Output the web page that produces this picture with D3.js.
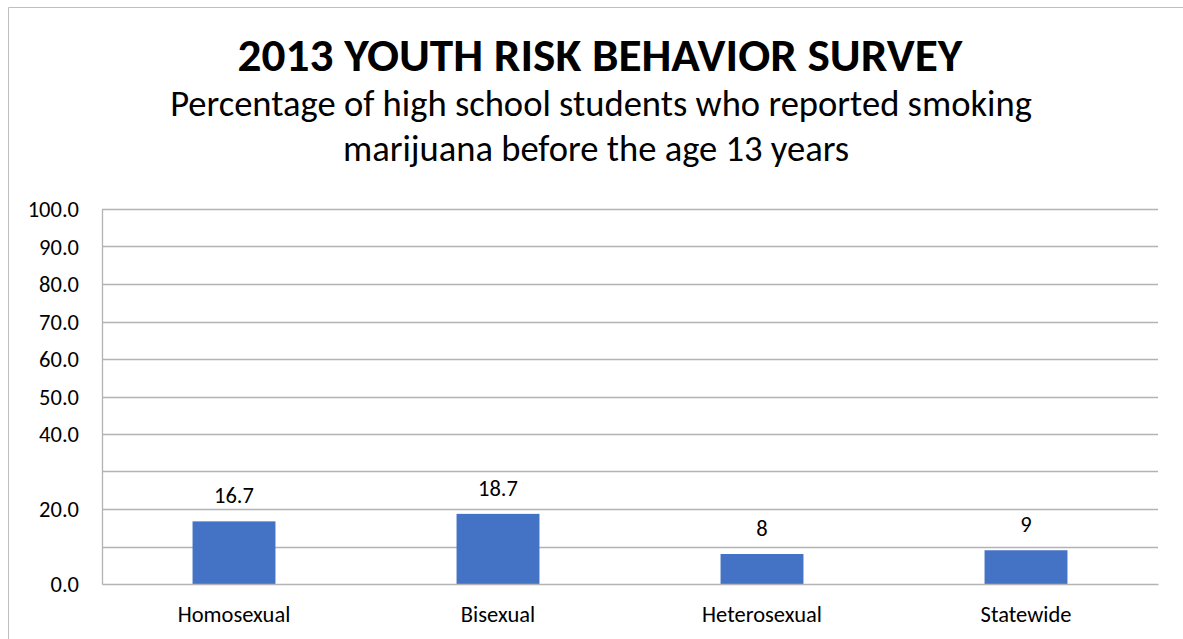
<!DOCTYPE html>
<html><head><meta charset="utf-8">
<script src="https://cdn.jsdelivr.net/npm/d3@7"></script>
<style>body{margin:0;background:#fff}svg{display:block}text{font-family:Calibri,Carlito,Lato,"Open Sans",sans-serif;fill:#000}</style>
</head><body><svg id="c" width="1183" height="639"></svg>
<script>
const title = "2013 YOUTH RISK BEHAVIOR SURVEY";
const subtitleLines = ["Percentage of high school students who reported smoking", "marijuana before the age 13 years"];
const categories = ["Homosexual", "Bisexual", "Heterosexual", "Statewide"];
const values = [16.7, 18.7, 8, 9];
const valueLabels = ["16.7", "18.7", "8", "9"];
const yTicks = [0, 10, 20, 30, 40, 50, 60, 70, 80, 90, 100];
const yTickLabels = ["0.0", "", "20.0", "", "40.0", "50.0", "60.0", "70.0", "80.0", "90.0", "100.0"];

const svg = d3.select("#c");
const W = 1183, H = 639;
const m = {left: 102, right: 1158, top: 209, bottom: 584};
const FONT = "Calibri,Carlito,Lato,sans-serif";
const FS = 22.5;

// outer frame
svg.append("path").attr("d", `M8.5,${H} V7.5 H${W}`).attr("fill","none").attr("stroke","#bfbfbf").attr("stroke-width",1);

function fit(sel, target){
  const n = sel.node(); let fs = parseFloat(sel.attr("font-size"));
  const w = n.getComputedTextLength();
  if (w > 0) sel.attr("font-size", fs * target / w);
}

const t = svg.append("text").attr("x", 600).attr("y", 71).attr("text-anchor","middle")
  .attr("font-size", 37).attr("font-weight","bold").text(title);
fit(t, 725);
const s1 = svg.append("text").attr("x", 601).attr("y", 116).attr("text-anchor","middle").attr("font-size",30).text(subtitleLines[0]);
fit(s1, 862);
const s2 = svg.append("text").attr("x", 596).attr("y", 161).attr("text-anchor","middle").attr("font-size", s1.attr("font-size")).text(subtitleLines[1]);

const x = d3.scaleBand().domain(categories).range([m.left, m.right]).paddingInner(0.686).paddingOuter(0.343);
const y = d3.scaleLinear().domain([0, 100]).range([m.bottom, m.top]);

// gridlines
svg.append("g").selectAll("line").data(yTicks.filter(d=>d>0)).join("line")
  .attr("x1", m.left).attr("x2", m.right)
  .attr("y1", d=>Math.round(y(d))+0.5).attr("y2", d=>Math.round(y(d))+0.5)
  .attr("stroke","#b3b3b3").attr("stroke-width",1.3);

// y axis
const yAxis = d3.axisLeft(y).tickValues(yTicks).tickSize(0).tickPadding(23)
  .tickFormat((d,i)=>yTickLabels[i]);
const ga = svg.append("g").attr("transform", `translate(${m.left},0)`).call(yAxis);
ga.attr("font-size", FS).attr("font-family", FONT);
ga.select(".domain").attr("stroke","#b3b3b3").attr("stroke-width",1.3);
ga.selectAll("text").attr("font-size",FS).attr("font-family",FONT).attr("fill","#000").attr("dy","0.35em");

// bars
svg.append("g").selectAll("rect").data(values).join("rect")
  .attr("x",(d,i)=>x(categories[i])).attr("width", x.bandwidth())
  .attr("y", d=>y(d)).attr("height", d=>y(0)-y(d)).attr("fill","#4472C4");

// x axis
const xAxis = d3.axisBottom(x).tickSize(0).tickPadding(22);
const gx = svg.append("g").attr("transform", `translate(0,${m.bottom})`).call(xAxis);
gx.attr("font-size", FS).attr("font-family", FONT);
gx.select(".domain").attr("stroke","#b3b3b3").attr("stroke-width",1.5);
gx.selectAll("text").attr("font-size",FS).attr("font-family",FONT).attr("fill","#000");

// value labels
svg.append("g").selectAll("text").data(values).join("text")
  .attr("x",(d,i)=>x(categories[i]) + x.bandwidth()/2).attr("y", d=>y(d)-18)
  .attr("text-anchor","middle").attr("font-size",FS).text((d,i)=>valueLabels[i]);
</script></body></html>
